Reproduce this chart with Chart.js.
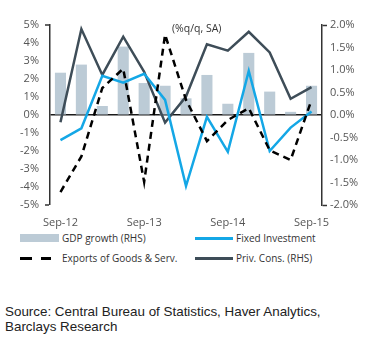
<!DOCTYPE html>
<html>
<head>
<meta charset="utf-8">
<script src="https://cdn.jsdelivr.net/npm/chart.js@4"></script>
<style>
  html, body { margin: 0; padding: 0; background: #fff; }
  body { width: 367px; height: 341px; position: relative; overflow: hidden; font-family: "Open Sans", sans-serif; }
  #wrap { position: absolute; left: 0; top: 0; width: 367px; height: 230px; }
  .lg { position: absolute; font-size: 10px; color: #333; line-height: 12px; white-space: nowrap; }
  .mk { position: absolute; }
  #unit { position: absolute; left: 172px; top: 21px; font-size: 10.5px; color: #333; white-space: nowrap; }
  #src { position: absolute; left: 5px; top: 304px; font-family: "Liberation Sans", Arial, sans-serif; font-size: 13.4px; line-height: 15px; color: #222; }
</style>
</head>
<body>
<div id="wrap"><canvas id="c" width="367" height="230"></canvas></div>
<div id="unit">(%q/q, SA)</div>

<div class="mk" style="left:20px;top:234px;width:39px;height:8px;background:#bccbd6;"></div>
<div class="lg" style="left:62px;top:232px;">GDP growth (RHS)</div>
<div class="mk" style="left:195px;top:237px;width:38px;height:3px;background:#14a7e6;"></div>
<div class="lg" style="left:236px;top:232px;">Fixed Investment</div>
<div class="mk" style="left:20px;top:257px;width:12px;height:3px;background:#000;"></div>
<div class="mk" style="left:41px;top:257px;width:10px;height:3px;background:#000;"></div>
<div class="lg" style="left:62px;top:252px;">Exports of Goods &amp; Serv.</div>
<div class="mk" style="left:195px;top:257px;width:38px;height:3px;background:#3e4d58;"></div>
<div class="lg" style="left:236px;top:252px;">Priv. Cons. (RHS)</div>

<div id="src">Source: Central Bureau of Statistics, Haver Analytics,<br>Barclays Research</div>

<script>
const categories = ["Sep-12","Dec-12","Mar-13","Jun-13","Sep-13","Dec-13","Mar-14","Jun-14","Sep-14","Dec-14","Mar-15","Jun-15","Sep-15"];
const gdpGrowth = [0.94, 1.12, 0.20, 1.52, 0.71, 0.65, 0.37, 0.89, 0.25, 1.38, 0.52, 0.07, 0.65];
const fixedInvestment = [-1.40, -0.74, 2.18, 1.80, 2.29, 0.84, -3.95, -0.10, -2.05, 2.45, -2.00, -0.70, 0.19];
const exportsGS = [-4.28, -2.30, 1.50, 2.57, -3.72, 4.47, 0.84, -1.45, -0.28, 0.38, -1.96, -2.50, 0.84];
const privCons = [-0.16, 1.91, 0.89, 1.74, 0.96, -0.17, 0.41, 1.57, 1.43, 1.85, 1.39, 0.36, 0.62];
const leftTicks = [-5, -4, -3, -2, -1, 0, 1, 2, 3, 4, 5];
const rightTicks = [-2, -1.5, -1, -0.5, 0, 0.5, 1, 1.5, 2];
const xTickLabels = ["Sep-12", "Sep-13", "Sep-14", "Sep-15"];

const tickFont = { family: "Open Sans", size: 11 };
const axisColor = "#333";

new Chart(document.getElementById("c"), {
  data: {
    labels: categories,
    datasets: [
      { type: "line", label: "Exports of Goods & Serv.", data: exportsGS, yAxisID: "yL",
        borderColor: "#000", borderWidth: 2.5, borderDash: [7, 5], pointRadius: 0, tension: 0, order: 1 },
      { type: "line", label: "Fixed Investment", data: fixedInvestment, yAxisID: "yL",
        borderColor: "#14a7e6", borderWidth: 2.5, pointRadius: 0, tension: 0, order: 2 },
      { type: "line", label: "Priv. Cons. (RHS)", data: privCons, yAxisID: "yR",
        borderColor: "#3e4d58", borderWidth: 2.5, pointRadius: 0, tension: 0, order: 3 },
      { type: "bar", label: "GDP growth (RHS)", data: gdpGrowth, yAxisID: "yR",
        backgroundColor: "#bccbd6", barPercentage: 0.53, categoryPercentage: 1, order: 4 }
    ]
  },
  options: {
    responsive: false,
    animation: false,
    events: [],
    layout: { padding: { top: 25, left: 0, right: 0, bottom: 0 } },
    plugins: { legend: { display: false }, tooltip: { enabled: false }, title: { display: false } },
    scales: {
      x: {
        type: "category",
        offset: true,
        grid: { display: false, drawTicks: false },
        border: { display: false },
        ticks: {
          autoSkip: false, maxRotation: 0, minRotation: 0, padding: 11,
          color: "#555", font: tickFont,
          callback: function (v, i) { const l = categories[i]; return xTickLabels.includes(l) ? l : ""; }
        },
        afterFit: function (s) { s.height = 25; }
      },
      yL: {
        type: "linear", position: "left", min: -5, max: 5,
        afterBuildTicks: function (s) { s.ticks = leftTicks.map(v => ({ value: v })); },
        grid: {
          drawOnChartArea: true, drawTicks: true, tickLength: 5,
          color: ctx => (ctx.tick && ctx.tick.value === 0) ? "#1a1a1a" : "rgba(0,0,0,0)",
          lineWidth: ctx => (ctx.tick && ctx.tick.value === 0) ? 1.5 : 0,
          tickColor: ctx => (ctx.tick && Math.abs(ctx.tick.value) === 5) ? axisColor : "rgba(0,0,0,0)",
          tickWidth: 1.5
        },
        border: { display: true, color: axisColor, width: 1.5 },
        ticks: { color: "#555", font: tickFont, padding: 6, callback: v => v + "%" },
        afterFit: function (s) { s.width = 50; }
      },
      yR: {
        type: "linear", position: "right", min: -2, max: 2,
        afterBuildTicks: function (s) { s.ticks = rightTicks.map(v => ({ value: v })); },
        grid: {
          drawOnChartArea: false, drawTicks: true, tickLength: 5,
          tickColor: ctx => (ctx.tick && Math.abs(ctx.tick.value) === 2) ? axisColor : "rgba(0,0,0,0)",
          tickWidth: 1.5
        },
        border: { display: true, color: axisColor, width: 1.5 },
        ticks: { color: "#555", font: tickFont, padding: 3, callback: v => v.toFixed(1) + "%" },
        afterFit: function (s) { s.width = 45; }
      }
    }
  }
});
</script>
</body>
</html>
